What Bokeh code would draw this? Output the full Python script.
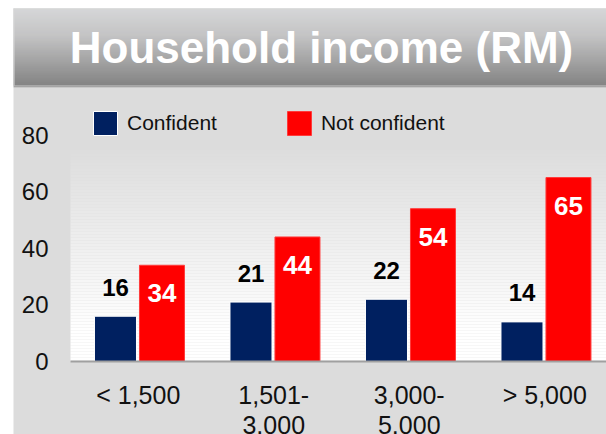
from bokeh.plotting import figure
from bokeh.models import Range1d, FixedTicker, Legend, LegendItem, ColumnDataSource
from bokeh.core.properties import value
from bokeh.embed import file_html
from bokeh.resources import INLINE

# ---- data ----
title_text = "Household income (RM)"
categories = ["< 1,500", "1,501-\n3,000", "3,000-\n5,000", "> 5,000"]
confident = [16, 21, 22, 14]
not_confident = [34, 44, 54, 65]
series_names = ["Confident", "Not confident"]
y_ticks = [0, 20, 40, 60, 80]

FONT = "Liberation Sans"
NAVY = "#002060"
RED = "#ff0000"
BG = "#dcdcdc"

# ---- geometry (canvas pixels) ----
W, H = 606, 434
X0_PX, CAT_PX = 70.0, 135.5      # x of category axis start, px per category
Y0_PX, UNIT_PX = 361.0, 2.83     # y of value 0, px per value unit


def X(px):
    return (px - X0_PX) / CAT_PX


def Y(py):
    return (Y0_PX - py) / UNIT_PX


def lerp_color(c1, c2, t):
    t = max(0.0, min(1.0, t))
    return "#%02x%02x%02x" % tuple(round(a + (b - a) * t) for a, b in zip(c1, c2))


p = figure(width=W, height=H,
           x_range=Range1d(X(0), X(W)), y_range=Range1d(Y(H), Y(0)),
           toolbar_location=None, output_backend="svg", min_border=0)
p.background_fill_color = "white"
p.border_fill_color = "white"
p.outline_line_color = None
p.grid.visible = False

# grey panel background
p.quad(left=[X(13)], right=[X(620)], top=[Y(87)], bottom=[Y(440)], fill_color=BG, line_color=None)

# banner with vertical gradient
top_c, mid_c, bot_c = (200, 201, 203), (176, 176, 177), (92, 92, 92)
bl, br, bt, bb, bc = [], [], [], [], []
rows = list(range(8, 85))
for i, py in enumerate(rows):
    t = i / (len(rows) - 1)
    if t < 0.35:
        c = lerp_color(top_c, mid_c, t / 0.35)
    else:
        c = lerp_color(mid_c, bot_c, (t - 0.35) / 0.65)
    bl.append(X(13)); br.append(X(620)); bt.append(Y(py)); bb.append(Y(py + 1)); bc.append(c)
p.quad(left=bl, right=br, top=bt, bottom=bb, fill_color=bc, line_color=None)
p.quad(left=[X(13)], right=[X(620)], top=[Y(85)], bottom=[Y(87)], fill_color="#a4a4a4", line_color=None)
p.quad(left=[X(13)], right=[X(620)], top=[Y(8)], bottom=[Y(9)], fill_color="#d6d6d6", line_color=None)
p.quad(left=[X(13)], right=[X(14)], top=[Y(8)], bottom=[Y(85)], fill_color="#d6d6d6", line_color=None)
p.text(x=[X(321)], y=[Y(47)], text=[title_text], text_color="white",
       text_font=value(FONT), text_font_style="bold", text_font_size="44px",
       text_align="center", text_baseline="alphabetic")

# plot-area gradient (white at bottom to grey at top)
g_top_px, g_white_px = 150, 330
gl, gr, gt, gb, gc = [], [], [], [], []
for py in range(g_top_px, int(Y0_PX), 3):
    t = (g_white_px - (py + 1.5)) / (g_white_px - g_top_px)
    gl.append(X(70)); gr.append(X(620)); gt.append(Y(py)); gb.append(Y(min(py + 3, Y0_PX)))
    gc.append(lerp_color((255, 255, 255), (221, 221, 221), t))
p.quad(left=gl, right=gr, top=gt, bottom=gb, fill_color=gc, line_color=None)

# bars
xc = [i + 0.5 for i in range(len(categories))]
x_conf = [x - 0.168 for x in xc]
x_not = [x + 0.175 for x in xc]

src_c = ColumnDataSource(dict(x=x_conf, top=confident, lab=[str(v) for v in confident]))
src_n = ColumnDataSource(dict(x=x_not, top=not_confident, lab=[str(v) for v in not_confident]))

r1 = p.vbar(x="x", top="top", bottom=0, width=0.31, source=src_c,
            fill_color=NAVY, line_color="white", line_width=1)
r2 = p.vbar(x="x", top="top", bottom=0, width=0.332, source=src_n,
            fill_color=RED, line_color="#ff3a3a", line_width=1)

p.text(x="x", y="top", text="lab", source=src_c, y_offset=-29,
       text_font=value(FONT), text_font_style="bold", text_font_size="24px",
       text_color="black", text_align="center", text_baseline="alphabetic")
p.text(x="x", y="top", text="lab", source=src_n, y_offset=28,
       text_font=value(FONT), text_font_style="bold", text_font_size="26px",
       text_color="white", text_align="center", text_baseline="alphabetic")

# axes (placed at fixed positions inside the frame)
p.xaxis.fixed_location = 0
p.xaxis.bounds = (0, X(620))
p.xaxis.ticker = FixedTicker(ticks=xc)
p.xaxis.major_label_overrides = {x: c for x, c in zip(xc, categories)}
p.xaxis.axis_line_color = "#a0a0a0"
p.xaxis.axis_line_width = 2
p.xaxis.major_tick_line_color = None
p.xaxis.minor_tick_line_color = None
p.xaxis.major_tick_out = 0
p.xaxis.major_tick_in = 0
p.xaxis.major_label_standoff = 19
p.xaxis.major_label_text_font = FONT
p.xaxis.major_label_text_font_size = "25px"
p.xaxis.major_label_text_line_height = 1.1
p.xaxis.major_label_text_color = "#111111"

p.yaxis.fixed_location = 0
p.yaxis.bounds = (0, 80)
p.yaxis.ticker = FixedTicker(ticks=y_ticks)
p.yaxis.axis_line_color = None
p.yaxis.major_tick_line_color = None
p.yaxis.minor_tick_line_color = None
p.yaxis.major_tick_out = 0
p.yaxis.major_tick_in = 0
p.yaxis.major_label_standoff = 22
p.yaxis.major_label_text_font = FONT
p.yaxis.major_label_text_font_size = "24px"
p.yaxis.major_label_text_color = "#111111"

legend = Legend(items=[LegendItem(label=series_names[0], renderers=[r1]),
                       LegendItem(label=series_names[1], renderers=[r2])],
                orientation="horizontal", location=(90, H - 138),
                glyph_width=30, glyph_height=30, label_standoff=7, spacing=67,
                padding=0, margin=0, border_line_alpha=0, background_fill_alpha=0,
                label_text_font=FONT, label_text_font_size="21px",
                label_text_color="#111111")
p.add_layout(legend, "center")

open("out.html", "w").write(file_html(p, INLINE))
